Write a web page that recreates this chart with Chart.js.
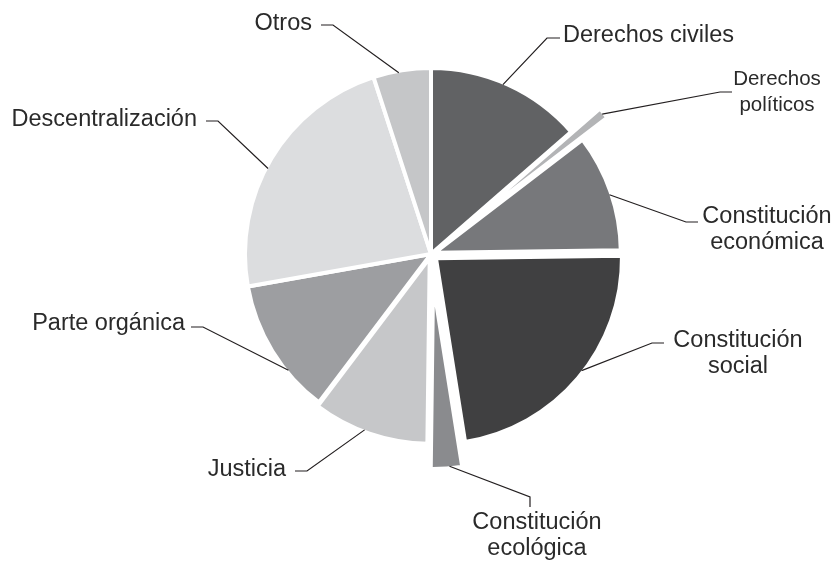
<!DOCTYPE html>
<html>
<head>
<meta charset="utf-8">
<script src="https://cdn.jsdelivr.net/npm/chart.js@4/dist/chart.umd.min.js"></script>
<style>
  body { margin: 0; background: #fff; }
  #wrap { width: 837px; height: 562px; }
</style>
</head>
<body>
<div id="wrap"><canvas id="pieChart" width="837" height="562"></canvas></div>
<script>
// share of articles by topic (%)
var topics = [
    ["Derechos civiles"],
    ["Derechos", "políticos"],
    ["Constitución", "económica"],
    ["Constitución", "social"],
    ["Constitución", "ecológica"],
    ["Justicia"],
    ["Parte orgánica"],
    ["Descentralización"],
    ["Otros"]
];
var shares = [13.6, 1.0, 10.2, 22.7, 2.7, 10.1, 11.9, 22.8, 5.0];

var greys = ['#616264', '#b3b4b6', '#77787b', '#404041', '#8a8b8e',
             '#c6c7c9', '#9d9ea1', '#dcdddf', '#c5c6c8'];
// how far each slice is pulled out from the centre (px)
var pullOut = [0, 37, 4, 6.5, 29, 4, 0, 0, 0];

// label placement: text anchor, alignment, font size, where on the arc the
// leader starts (fraction of the slice) and the short elbow next to the text
var labelSpots = [
    {x: 563, y: 36,  align: 'left',   size: 23.5, at: 0.47, elbow: [[547, 38], [560, 38]]},
    {x: 777, y: 79,  align: 'center', size: 20.5, at: 0.5,  elbow: [[720, 92], [732, 92]]},
    {x: 767, y: 217, align: 'center', size: 23.5, at: 0.52, elbow: [[686, 222], [698, 222]]},
    {x: 738, y: 341, align: 'center', size: 23.5, at: 0.47, elbow: [[652, 343], [664, 343]]},
    {x: 537, y: 523, align: 'center', size: 23.5, at: 0.4,  elbow: [[530, 497], [530, 507]]},
    {x: 286, y: 470, align: 'right',  size: 23.5, at: 0.55, elbow: [[307, 471], [295, 471]]},
    {x: 185, y: 324, align: 'right',  size: 23.5, at: 0.32, elbow: [[203, 327], [191, 327]]},
    {x: 197, y: 120, align: 'right',  size: 23.5, at: 0.46, elbow: [[218, 121], [206, 121]]},
    {x: 312, y: 24,  align: 'right',  size: 23.5, at: 0.44, elbow: [[333, 25], [321, 25]]}
];

// moves the exploded slices straight out along their bisector
var explodeSlices = {
    id: 'explodeSlices',
    afterDatasetUpdate: function (chart, args) {
        args.meta.data.forEach(function (arc, i) {
            var d = pullOut[i];
            if (!d) return;
            var mid = (arc.startAngle + arc.endAngle) / 2;
            arc.x += Math.cos(mid) * d;
            arc.y += Math.sin(mid) * d;
        });
    }
};

var leaderLabels = {
    id: 'leaderLabels',
    afterDraw: function (chart) {
        var ctx = chart.ctx;
        var arcs = chart.getDatasetMeta(0).data;
        ctx.save();
        ctx.strokeStyle = '#231f20';
        ctx.lineWidth = 1.2;
        ctx.fillStyle = '#2a2a2a';
        ctx.textBaseline = 'middle';
        arcs.forEach(function (arc, i) {
            var spot = labelSpots[i];
            var a = arc.startAngle + (arc.endAngle - arc.startAngle) * spot.at;
            var r = arc.outerRadius - 2;
            ctx.beginPath();
            ctx.moveTo(arc.x + Math.cos(a) * r, arc.y + Math.sin(a) * r);
            ctx.lineTo(spot.elbow[0][0], spot.elbow[0][1]);
            ctx.lineTo(spot.elbow[1][0], spot.elbow[1][1]);
            ctx.stroke();
            ctx.font = spot.size + 'px "Liberation Sans", Arial, sans-serif';
            ctx.textAlign = spot.align;
            topics[i].forEach(function (line, k) {
                ctx.fillText(line, spot.x, spot.y + k * 26);
            });
        });
        ctx.restore();
    }
};

var pieChart = new Chart(document.getElementById('pieChart').getContext('2d'), {
    type: 'pie',
    data: {
        labels: topics.map(function (t) { return t.join(' '); }),
        datasets: [{
            data: shares,
            backgroundColor: greys,
            borderColor: '#ffffff',
            borderWidth: 4
        }]
    },
    options: {
        responsive: false,
        animation: false,
        radius: 186,
        layout: {
            padding: {left: 25, right: 0, top: 0, bottom: 54}
        },
        plugins: {
            legend: {display: false},
            tooltip: {enabled: false}
        }
    },
    plugins: [explodeSlices, leaderLabels]
});
</script>
</body>
</html>
